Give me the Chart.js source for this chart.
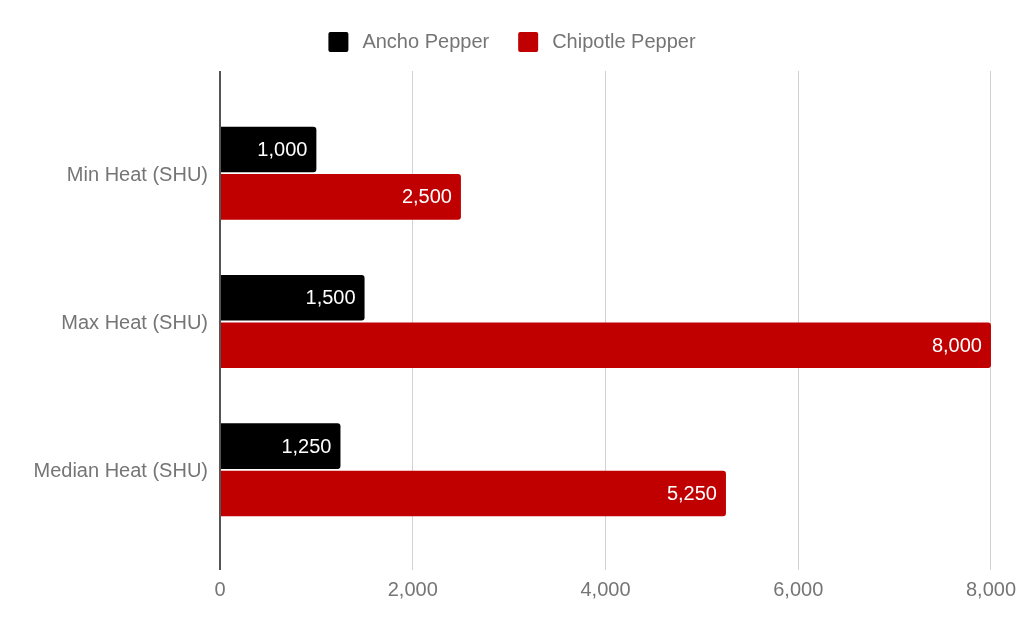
<!DOCTYPE html>
<html>
<head>
<meta charset="utf-8">
<script src="https://cdn.jsdelivr.net/npm/chart.js@4.4.0/dist/chart.umd.min.js"></script>
<style>
  html, body { margin: 0; padding: 0; background: #fff; }
</style>
</head>
<body>
<canvas id="Chart" width="1024" height="633"></canvas>
<script>
// data
const categories = ['Min Heat (SHU)', 'Max Heat (SHU)', 'Median Heat (SHU)'];
const anchoValues = [1000, 1500, 1250];
const chipotleValues = [2500, 8000, 5250];
const xTicks = [0, 2000, 4000, 6000, 8000];

const FONT = "'Liberation Sans', Arial, Helvetica, sans-serif";
const TEXT_GREY = '#757575';

Chart.defaults.font.family = FONT;
Chart.defaults.font.size = 20;
Chart.defaults.color = TEXT_GREY;

// zero line dark, the rest light grey
const gridColor = (c) => (c.tick && c.tick.value === 0) ? '#555555' : '#d3d3d3';
const gridWidth = (c) => (c.tick && c.tick.value === 0) ? 2 : 1;
const useTicks = (scale) => { scale.ticks = xTicks.map(v => ({ value: v })); };

// white value labels at the end of each bar
const barLabels = {
  id: 'barLabels',
  afterDatasetsDraw(chart) {
    const ctx = chart.ctx;
    ctx.save();
    ctx.font = '20px ' + FONT;
    ctx.fillStyle = '#ffffff';
    ctx.textAlign = 'right';
    ctx.textBaseline = 'middle';
    chart.data.datasets.forEach((ds, i) => {
      chart.getDatasetMeta(i).data.forEach((bar, j) => {
        ctx.fillText(ds.data[j].toLocaleString('en-US'), bar.x - 9, bar.y + 1);
      });
    });
    ctx.restore();
  }
};

let ctx = document.getElementById('Chart');
let config = {
  type: 'bar',
  data: {
    labels: categories,
    datasets: [{
      label: 'Ancho Pepper',
      data: anchoValues,
      backgroundColor: '#000000',
    }, {
      label: 'Chipotle Pepper',
      data: chipotleValues,
      backgroundColor: '#c00000',
    }],
  },
  options: {
    indexAxis: 'y',
    responsive: false,
    animation: false,
    datasets: {
      bar: {
        borderRadius: 3,
        categoryPercentage: 0.64,
        barPercentage: 0.96,
      }
    },
    layout: {
      padding: { top: 3, right: 33, bottom: 23, left: 33 }
    },
    plugins: {
      legend: {
        position: 'top',
        labels: {
          boxWidth: 20,
          boxHeight: 20,
          useBorderRadius: true,
          borderRadius: 2,
          padding: 29,
          color: TEXT_GREY,
          // a thin space widens the gap between swatch and text a little
          generateLabels: (chart) => Chart.defaults.plugins.legend.labels.generateLabels(chart)
            .map(item => Object.assign(item, { text: '\u2009' + item.text })),
        }
      },
      tooltip: { enabled: false },
    },
    scales: {
      x: {
        type: 'linear',
        min: 0,
        max: 8000,
        afterBuildTicks: useTicks,
        grid: { color: gridColor, tickColor: gridColor, lineWidth: gridWidth, tickLength: 26 },
        border: { display: false },
        ticks: { padding: 8, callback: (v) => v.toLocaleString('en-US') },
      },
      // top axis only used to run the grid lines up above the bars
      x2: {
        type: 'linear',
        axis: 'x',
        position: 'top',
        min: 0,
        max: 8000,
        afterBuildTicks: useTicks,
        grid: { drawOnChartArea: true, color: gridColor, tickColor: gridColor, lineWidth: gridWidth, tickLength: 28 },
        border: { display: false },
        ticks: { display: false },
        afterFit(scale) { scale.height = 37; },
      },
      y: {
        grid: { display: false, drawTicks: false },
        border: { display: false },
        ticks: { padding: 12, labelOffset: 2 },
        afterFit(scale) { scale.width = 187; },
      }
    },
  },
  plugins: [barLabels],
};
let chart = new Chart(ctx, config);
</script>
</body>
</html>
